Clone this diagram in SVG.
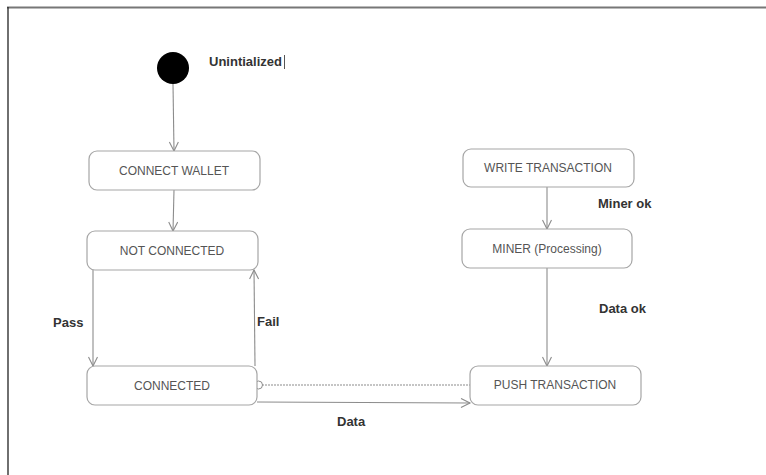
<svg xmlns="http://www.w3.org/2000/svg" width="766" height="475" viewBox="0 0 766 475">
<style>
.node rect{fill:#fff;stroke:#a6a6a6;stroke-width:1.2}
.node text{font-family:"Liberation Sans",Arial,sans-serif;font-size:12px;fill:#555;text-anchor:middle;dominant-baseline:central}
.lbl{font-family:"Liberation Sans",Arial,sans-serif;font-size:13px;font-weight:bold;fill:#333}
.conn line,.conn path{stroke:#8c8c8c;stroke-width:1.1;fill:none}
</style>
<defs>
<marker id="arr" markerWidth="12" markerHeight="12" refX="10" refY="5" orient="auto" markerUnits="userSpaceOnUse">
<path d="M1,0.5 L10,5 L1,9.5" fill="none" stroke="#8c8c8c" stroke-width="1.1"/>
</marker>
</defs>
<rect width="766" height="475" fill="#fff"/>
<line x1="7" y1="7.5" x2="766" y2="7.5" stroke="#777" stroke-width="2"/>
<line x1="8" y1="7" x2="8" y2="475" stroke="#222" stroke-width="1.3"/>

<g class="conn">
<line x1="173" y1="84" x2="174" y2="151" marker-end="url(#arr)"/>
<line x1="174" y1="190" x2="173" y2="231" marker-end="url(#arr)"/>
<line x1="93" y1="270" x2="93" y2="366" marker-end="url(#arr)"/>
<line x1="255" y1="366" x2="254" y2="270" marker-end="url(#arr)"/>
<line x1="262" y1="385" x2="470" y2="385" stroke-dasharray="2,1"/>
<circle cx="258.5" cy="385" r="4" fill="#fff" stroke="#8c8c8c" stroke-width="1"/>
<path d="M257,402 L470,403" marker-end="url(#arr)"/>
<line x1="547" y1="187" x2="547" y2="229" marker-end="url(#arr)"/>
<line x1="547" y1="268" x2="547" y2="366" marker-end="url(#arr)"/>
</g>

<g id="start">
<circle cx="173" cy="68" r="16" fill="#000"/>
<text class="lbl" x="209" y="66">Unintialized</text>
<line x1="284.5" y1="55" x2="284.5" y2="69" stroke="#555" stroke-width="1"/>
</g>
<g id="connect-wallet" class="node"><rect x="89" y="151" width="171" height="39" rx="8"/><text x="174" y="171">CONNECT WALLET</text></g>
<g id="not-connected" class="node"><rect x="87" y="231" width="171" height="39" rx="8"/><text x="172" y="251">NOT CONNECTED</text></g>
<g id="connected" class="node"><rect x="87" y="366" width="170" height="39" rx="8"/><text x="172" y="386">CONNECTED</text></g>
<g id="write-transaction" class="node"><rect x="463" y="149" width="171" height="38" rx="8"/><text x="548" y="168">WRITE TRANSACTION</text></g>
<g id="miner" class="node"><rect x="462" y="229" width="170" height="39" rx="8"/><text x="547" y="249">MINER (Processing)</text></g>
<g id="push-transaction" class="node"><rect x="470" y="366" width="171" height="39" rx="8"/><text x="555" y="385">PUSH TRANSACTION</text></g>

<g id="labels">
<text class="lbl" x="53" y="327">Pass</text>
<text class="lbl" x="257" y="326">Fail</text>
<text class="lbl" x="337" y="426">Data</text>
<text class="lbl" x="598" y="208">Miner ok</text>
<text class="lbl" x="599" y="313">Data ok</text>
</g>
</svg>
